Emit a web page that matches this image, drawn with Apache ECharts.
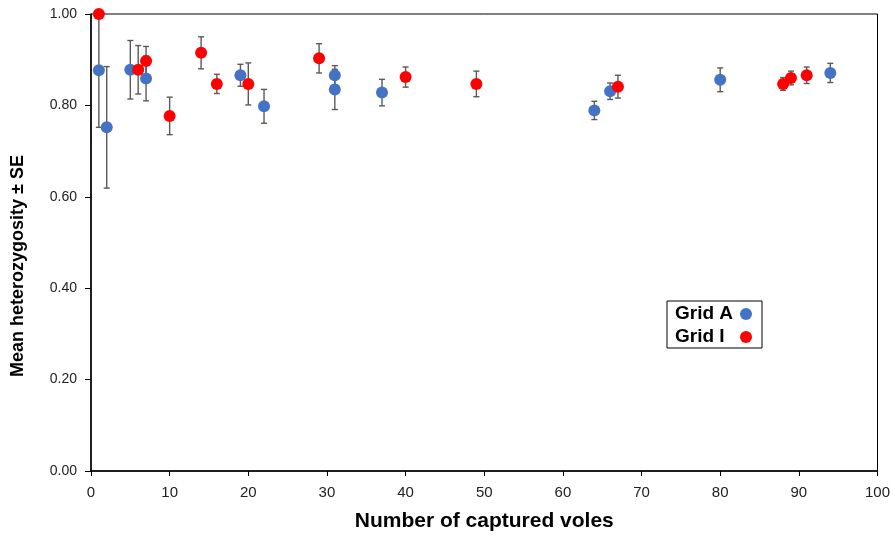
<!DOCTYPE html>
<html>
<head>
<meta charset="utf-8">
<script src="https://cdn.jsdelivr.net/npm/echarts@6/dist/echarts.min.js"></script>
<style>
  html, body { margin: 0; padding: 0; background: #fff; }
  #chart { width: 893px; height: 537px; }
</style>
</head>
<body>
<div id="chart"></div>
<script>
// Number of captured voles per sample (x) with mean heterozygosity and its SE
const gridA_x    = [1, 2, 5, 7, 19, 22, 31, 31, 37, 64, 66, 80, 94];
const gridA_mean = [0.877, 0.752, 0.878, 0.859, 0.866, 0.798, 0.866, 0.835, 0.828, 0.789, 0.831, 0.856, 0.871];
const gridA_se   = [0.125, 0.133, 0.064, 0.049, 0.024, 0.037, 0.021, 0.044, 0.029, 0.020, 0.018, 0.026, 0.021];

const gridI_x    = [1, 6, 7, 10, 14, 16, 20, 29, 40, 49, 67, 88, 89, 91];
const gridI_mean = [1.00, 0.878, 0.897, 0.777, 0.915, 0.847, 0.847, 0.903, 0.862, 0.847, 0.841, 0.847, 0.860, 0.866];
const gridI_se   = [0.000, 0.053, 0.032, 0.041, 0.035, 0.021, 0.046, 0.032, 0.022, 0.028, 0.025, 0.014, 0.015, 0.018];

const xTicks = [0, 10, 20, 30, 40, 50, 60, 70, 80, 90, 100];
const yTicks = [0.00, 0.20, 0.40, 0.60, 0.80, 1.00];

const points = (xs, ms) => xs.map((x, i) => [x, ms[i]]);
const bars = (xs, ms, se) => xs.map((x, i) => [x, ms[i] - se[i], ms[i] + se[i]]);

// vertical whisker with a short cap at each end
function renderErrorBar(params, api) {
  const x = api.value(0);
  const lo = api.coord([x, api.value(1)]);
  const hi = api.coord([x, api.value(2)]);
  const half = 3;
  const style = { stroke: '#5a5a5a', lineWidth: 1.4 };
  return {
    type: 'group',
    children: [
      { type: 'line', shape: { x1: lo[0], y1: lo[1], x2: hi[0], y2: hi[1] }, style },
      { type: 'line', shape: { x1: lo[0] - half, y1: lo[1], x2: lo[0] + half, y2: lo[1] }, style },
      { type: 'line', shape: { x1: hi[0] - half, y1: hi[1], x2: hi[0] + half, y2: hi[1] }, style }
    ]
  };
}

const chart = echarts.init(document.getElementById('chart'), null, { renderer: 'canvas' });
const labelFont = 'Liberation Sans, Arial, sans-serif';

chart.setOption({
  animation: false,
  backgroundColor: '#fff',
  grid: {
    left: 91, right: 15, top: 14, bottom: 66,
    show: true, borderColor: '#000', borderWidth: 1, backgroundColor: 'transparent'
  },
  graphic: [{
    type: 'text',
    x: 18, y: 266,
    rotation: Math.PI / 2,
    style: {
      text: 'Mean heterozygosity \u00b1 SE',
      fill: '#000',
      font: 'bold 18px ' + labelFont,
      textAlign: 'center',
      textVerticalAlign: 'middle'
    }
  }],
  legend: {
    orient: 'vertical',
    left: 667, top: 301,
    align: 'right',
    icon: 'circle',
    itemWidth: 12, itemHeight: 12,
    itemGap: 3,
    padding: [3, 10, 1, 8],
    borderColor: '#000', borderWidth: 1, borderRadius: 0,
    formatter: name => '{n|' + name + '}',
    textStyle: {
      color: '#000', fontWeight: 'bold', fontSize: 19, lineHeight: 20, fontFamily: labelFont,
      rich: {
        n: { width: 60, align: 'left', color: '#000', fontWeight: 'bold', fontSize: 19,
             lineHeight: 20, fontFamily: labelFont }
      }
    },
    data: ['Grid A', 'Grid I']
  },
  xAxis: {
    type: 'value',
    min: xTicks[0], max: xTicks[xTicks.length - 1], interval: 10,
    name: 'Number of captured voles',
    nameLocation: 'middle', nameGap: 40,
    nameTextStyle: { color: '#000', fontWeight: 'bold', fontSize: 21, fontFamily: labelFont },
    axisLine: { lineStyle: { color: '#000', width: 1.5 } },
    axisTick: { show: true, length: 5, inside: false, lineStyle: { color: '#000' } },
    axisLabel: { color: '#222', fontSize: 15, margin: 14, fontFamily: labelFont },
    splitLine: { show: false }
  },
  yAxis: {
    type: 'value',
    min: yTicks[0], max: yTicks[yTicks.length - 1], interval: 0.2,
    axisLine: { show: true, lineStyle: { color: '#000', width: 1.5 } },
    axisTick: { show: true, length: 6, inside: false, lineStyle: { color: '#000' } },
    axisLabel: { color: '#222', fontSize: 14, margin: 14, fontFamily: labelFont,
                 formatter: v => v.toFixed(2) },
    splitLine: { show: false }
  },
  series: [
    {
      type: 'custom', name: 'Grid A SE', renderItem: renderErrorBar,
      data: bars(gridA_x, gridA_mean, gridA_se), clip: true, z: 1,
      encode: { x: 0, y: [1, 2] }, silent: true
    },
    {
      type: 'custom', name: 'Grid I SE', renderItem: renderErrorBar,
      data: bars(gridI_x, gridI_mean, gridI_se), clip: true, z: 1,
      encode: { x: 0, y: [1, 2] }, silent: true
    },
    {
      type: 'scatter', name: 'Grid A', data: points(gridA_x, gridA_mean),
      symbol: 'circle', symbolSize: 12, clip: false, z: 3,
      itemStyle: { color: '#4472C4', opacity: 1 }
    },
    {
      type: 'scatter', name: 'Grid I', data: points(gridI_x, gridI_mean),
      symbol: 'circle', symbolSize: 12, clip: false, z: 4,
      itemStyle: { color: '#FF0000', opacity: 1 }
    }
  ]
});
</script>
</body>
</html>
